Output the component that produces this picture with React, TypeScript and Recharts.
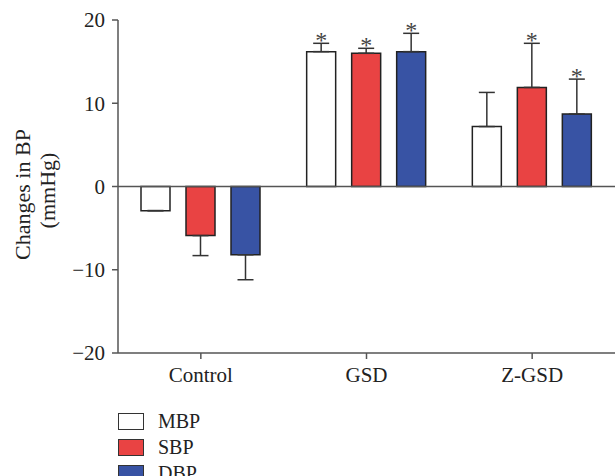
import { Bar, BarChart, ErrorBar, LabelList, ReferenceLine, XAxis, YAxis } from 'recharts';

const groups = ['Control', 'GSD', 'Z-GSD'];
const mbp = [-2.9, 16.2, 7.2];
const sbp = [-5.9, 16.0, 11.9];
const dbp = [-8.2, 16.2, 8.7];
const mbpErr = [0, 1.0, 4.1];
const sbpErr = [2.4, 0.6, 5.3];
const dbpErr = [3.0, 2.2, 4.2];
const mbpStar = [false, true, false];
const sbpStar = [false, true, true];
const dbpStar = [false, true, true];
const yTicks = [-20, -10, 0, 10, 20];

const FONT = '"Liberation Serif", "Times New Roman", serif';
const AXIS = '#555';

const series = [
    { key: 'mbp', name: 'MBP', fill: '#ffffff', values: mbp, errs: mbpErr, stars: mbpStar },
    { key: 'sbp', name: 'SBP', fill: '#e94343', values: sbp, errs: sbpErr, stars: sbpStar },
    { key: 'dbp', name: 'DBP', fill: '#3853a4', values: dbp, errs: dbpErr, stars: dbpStar },
];

// one-sided error bars, pointing away from zero
const data = groups.map((g, i) => {
    const row: Record<string, unknown> = { group: g };
    series.forEach((s) => {
        const v = s.values[i];
        const e = s.errs[i];
        row[s.key] = v;
        row[s.key + 'Err'] = v < 0 ? [e, 0] : [0, e];
    });
    return row;
});

function starLabel(errs: number[], stars: boolean[]) {
    return (props: any) => {
        const vb = props.viewBox ?? props;
        const x = vb.x ?? props.x;
        const y = vb.y ?? props.y;
        const width = vb.width ?? props.width;
        const height = vb.height ?? props.height;
        const idx = props.index;
        const value = Number(props.value);
        if (!stars[idx] || !(value > 0) || !height) return null;
        const pxPerUnit = Math.abs(height) / value;
        const top = y - errs[idx] * pxPerUnit;
        return (
            <text
                x={x + width / 2}
                y={top + 5}
                textAnchor="middle"
                fontSize={24}
                fontFamily={FONT}
                fill="#444"
            >
                *
            </text>
        );
    };
}

function YLabel(props: any) {
    const vb = props.viewBox;
    const cy = vb.y + vb.height / 2 + 8;
    const x1 = vb.x - 36;
    const x2 = vb.x - 11;
    return (
        <g fontFamily={FONT} fontSize={22} fill="#222">
            <text x={x1} y={cy} textAnchor="middle" dominantBaseline="central" transform={`rotate(-90, ${x1}, ${cy})`}>
                Changes in BP
            </text>
            <text x={x2} y={cy - 4} textAnchor="middle" dominantBaseline="central" transform={`rotate(-90, ${x2}, ${cy - 4})`}>
                (mmHg)
            </text>
        </g>
    );
}

export default function App() {
    return (
        <div style={{ position: 'absolute', left: 0, top: 0, width: 615, height: 476, background: '#fff', overflow: 'hidden' }}>
            <BarChart
                width={615}
                height={476}
                data={data}
                margin={{ top: 20, right: 0, bottom: 93, left: 58 }}
                barCategoryGap={23}
                barGap={16}
            >
                <XAxis
                    dataKey="group"
                    height={30}
                    tickSize={6}
                    tickMargin={8}
                    stroke={AXIS}
                    strokeWidth={1.5}
                    tick={{ fontSize: 21, fontFamily: FONT, fill: '#222' }}
                />
                <YAxis
                    width={60}
                    domain={[-20, 20]}
                    ticks={yTicks}
                    tickSize={6}
                    tickMargin={7}
                    stroke={AXIS}
                    strokeWidth={1.5}
                    tick={{ fontSize: 21, fontFamily: FONT, fill: '#222' }}
                    tickFormatter={(v: number) => (v < 0 ? `\u2212${-v}` : `${v}`)}
                    label={<YLabel />}
                />
                <ReferenceLine y={0} stroke={AXIS} strokeWidth={1.5} />
                {series.map((s) => (
                    <Bar
                        key={s.key}
                        dataKey={s.key}
                        name={s.name}
                        fill={s.fill}
                        stroke="#222"
                        strokeWidth={1.5}
                        isAnimationActive={false}
                    >
                        <ErrorBar dataKey={s.key + 'Err'} width={8} stroke="#333" strokeWidth={1.5} direction="y" />
                        <LabelList dataKey={s.key} content={starLabel(s.errs, s.stars)} />
                    </Bar>
                ))}
            </BarChart>
            <div style={{ position: 'absolute', left: 118, top: 408, fontFamily: FONT, fontSize: 20, color: '#222' }}>
                {series.map((s) => (
                    <div key={s.key} style={{ display: 'flex', alignItems: 'center', height: 26 }}>
                        <span
                            style={{
                                width: 24,
                                height: 15,
                                background: s.fill,
                                border: '1.5px solid #333',
                                marginRight: 14,
                            }}
                        />
                        {s.name}
                    </div>
                ))}
            </div>
        </div>
    );
}
